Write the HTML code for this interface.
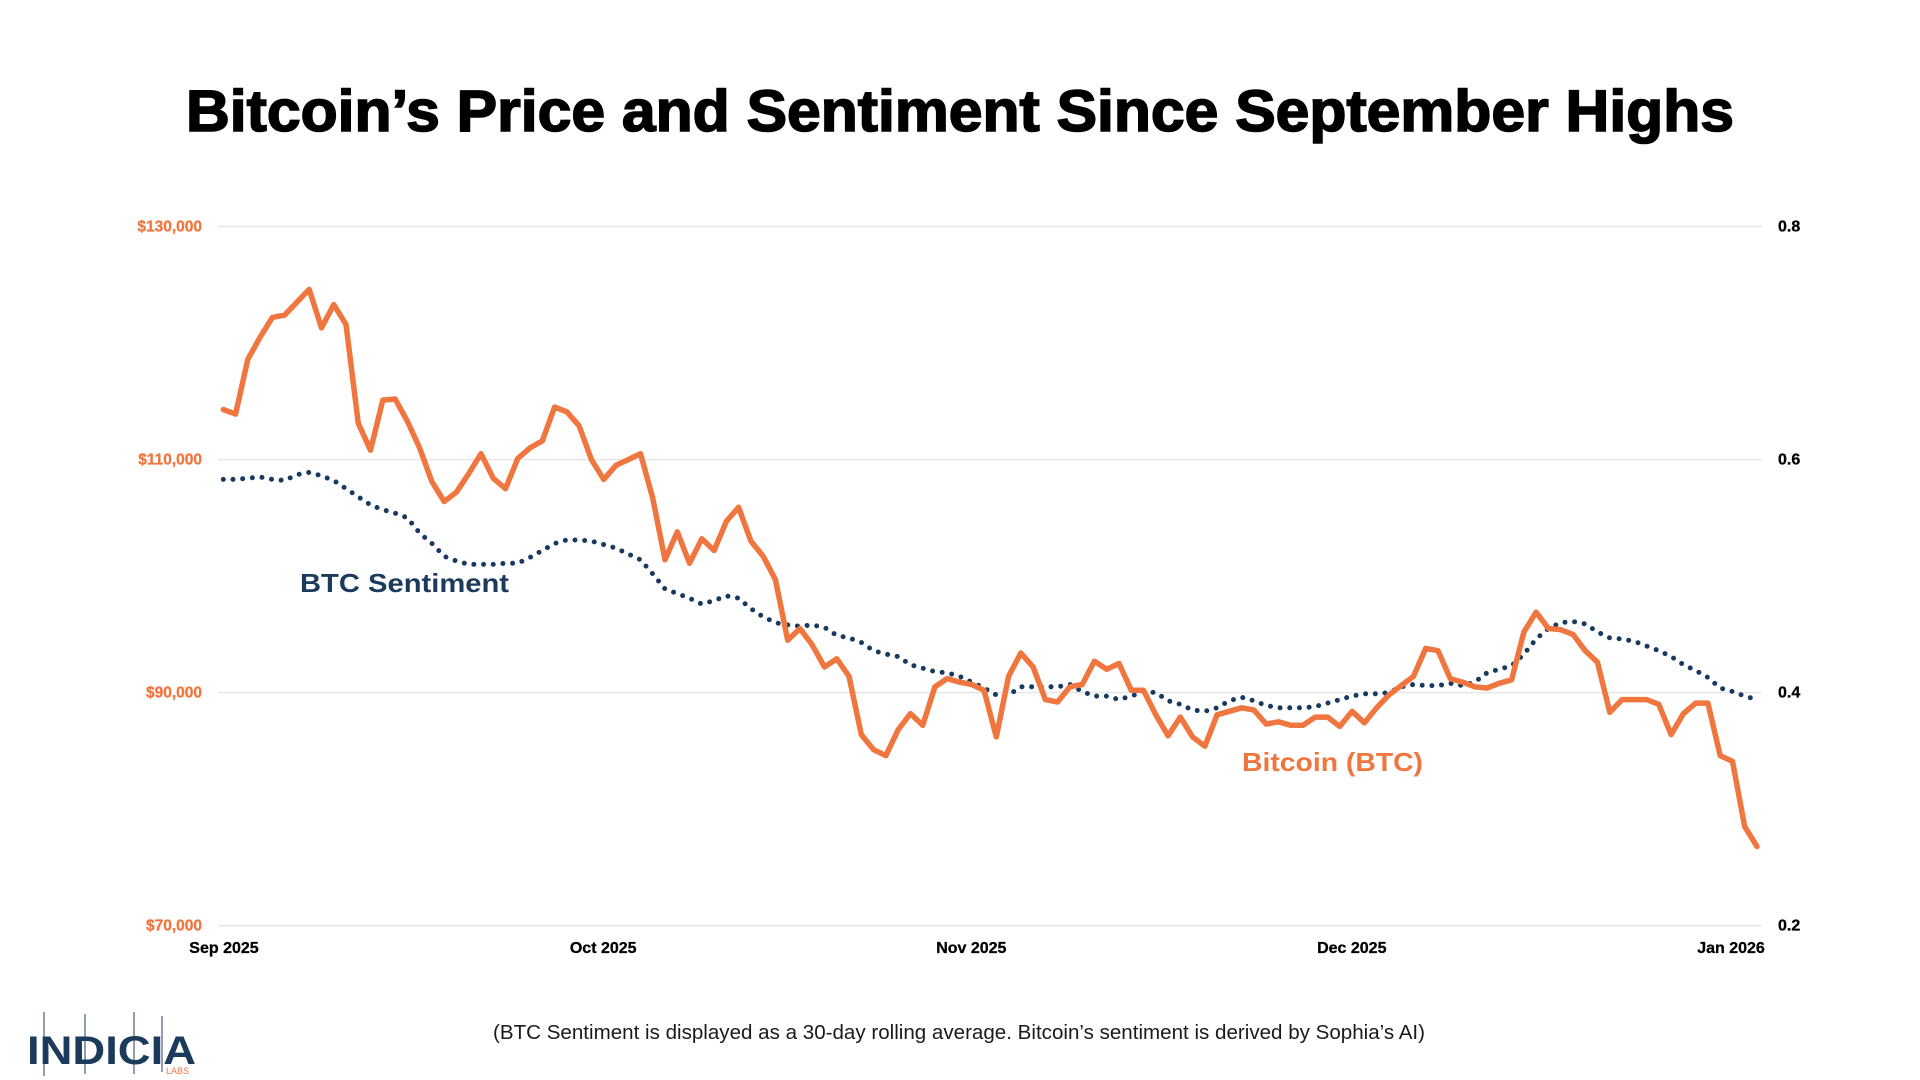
<!DOCTYPE html>
<html><head><meta charset="utf-8"><style>
html,body{margin:0;padding:0;background:#fff;width:1920px;height:1080px;overflow:hidden}
svg{display:block}
text{font-family:"Liberation Sans",sans-serif}
</style></head><body>
<svg id="chart" width="1920" height="1080" viewBox="0 0 1920 1080" xmlns="http://www.w3.org/2000/svg">
<text x="960" y="131" text-anchor="middle" font-size="58" font-weight="bold" fill="#000" stroke="#000" stroke-width="1.6" textLength="1548" lengthAdjust="spacingAndGlyphs">Bitcoin’s Price and Sentiment Since September Highs</text>
<g id="grid"></g>
<g id="yleft"></g>
<g id="yright"></g>
<g id="xaxis"></g>
<path id="sentLine" fill="none" stroke="#173a5e" stroke-width="5" stroke-linecap="round" stroke-dasharray="0 9.7"/>
<path id="priceLine" fill="none" stroke="#f07640" stroke-width="5.5" stroke-linejoin="round" stroke-linecap="round"/>
<text x="300" y="592" font-size="26" font-weight="bold" fill="#1b3a5c" textLength="209" lengthAdjust="spacingAndGlyphs">BTC Sentiment</text>
<text x="1242" y="771" font-size="26" font-weight="bold" fill="#f07640" textLength="181" lengthAdjust="spacingAndGlyphs">Bitcoin (BTC)</text>
<text x="959" y="1039" text-anchor="middle" font-size="20" fill="#1a1a1a" textLength="932" lengthAdjust="spacingAndGlyphs">(BTC Sentiment is displayed as a 30-day rolling average. Bitcoin’s sentiment is derived by Sophia’s AI)</text>
<g>
<line x1="44" y1="1012" x2="44" y2="1076" stroke="#6a7f95" stroke-width="1.5"/>
<line x1="85" y1="1014" x2="85" y2="1074" stroke="#6a7f95" stroke-width="1.5"/>
<line x1="134" y1="1012" x2="134" y2="1074" stroke="#6a7f95" stroke-width="1.5"/>
<line x1="162" y1="1016" x2="162" y2="1072" stroke="#6a7f95" stroke-width="1.5"/>
<text x="27" y="1064" font-size="40" font-weight="bold" fill="#1b3a5c" textLength="169" lengthAdjust="spacingAndGlyphs">INDICIA</text>
<text x="166" y="1074" font-size="9" fill="#f07640">LABS</text>
</g>
</svg>
<script>
const priceK=[114.3,113.9,118.6,120.5,122.2,122.4,123.5,124.6,121.3,123.3,121.6,113.1,110.8,115.1,115.2,113.3,111.0,108.1,106.4,107.2,108.8,110.5,108.4,107.5,110.1,111.0,111.6,114.5,114.1,112.9,110.0,108.3,109.5,110.0,110.5,106.7,101.4,103.8,101.1,103.2,102.2,104.7,105.9,103.0,101.7,99.7,94.5,95.5,94.1,92.2,92.9,91.4,86.4,85.1,84.6,86.8,88.2,87.2,90.5,91.2,90.9,90.7,90.2,86.2,91.4,93.4,92.2,89.4,89.2,90.5,90.7,92.7,92.0,92.5,90.2,90.2,88.1,86.3,87.9,86.2,85.4,88.1,88.4,88.7,88.5,87.3,87.5,87.2,87.2,87.9,87.9,87.1,88.4,87.4,88.7,89.8,90.6,91.4,93.8,93.6,91.2,90.9,90.5,90.4,90.8,91.1,95.2,96.9,95.5,95.4,95.0,93.6,92.6,88.3,89.4,89.4,89.4,89.0,86.4,88.2,89.1,89.1,84.6,84.1,78.5,76.8];
const sentiment=[.583,.583,.584,.585,.583,.582,.587,.589,.586,.582,.575,.568,.561,.557,.554,.550,.537,.528,.517,.513,.510,.510,.510,.511,.511,.516,.522,.528,.531,.531,.530,.527,.524,.519,.514,.502,.489,.485,.481,.476,.479,.483,.481,.472,.465,.460,.458,.457,.458,.456,.449,.447,.443,.436,.433,.431,.424,.421,.418,.417,.414,.409,.404,.398,.398,.405,.405,.405,.405,.407,.401,.397,.397,.394,.397,.401,.400,.393,.390,.385,.384,.387,.393,.396,.393,.389,.387,.387,.387,.388,.391,.394,.397,.399,.399,.400,.405,.407,.406,.406,.408,.406,.409,.417,.420,.423,.433,.446,.455,.460,.461,.459,.452,.447,.446,.444,.440,.436,.431,.424,.419,.413,.404,.401,.397,.394];
const leftTicks=[70000,90000,110000,130000];
const leftTickLabels=["$70,000","$90,000","$110,000","$130,000"];
const rightTicks=[0.2,0.4,0.6,0.8];
const rightTickLabels=["0.2","0.4","0.6","0.8"];
const monthLabels=["Sep 2025","Oct 2025","Nov 2025","Dec 2025","Jan 2026"];
const monthDay=[0,30.7,60.5,91.3,122];

const NS="http://www.w3.org/2000/svg";
const X0=223.3,X1=1757,Y0=925.7,Y1=226.5;
function xScale(i){return X0+(X1-X0)*i/(priceK.length-1);}
function yPrice(p){return Y0-(p-70000)/(130000-70000)*(Y0-Y1);}
function ySent(s){return Y0-(s-0.2)/(0.8-0.2)*(Y0-Y1);}
function xLabel(d){return 224+(1731-224)*d/122;}
function mk(tag,attrs,parent,txt){const e=document.createElementNS(NS,tag);for(const k in attrs)e.setAttribute(k,attrs[k]);if(txt!==undefined)e.textContent=txt;parent.appendChild(e);return e;}

const grid=document.getElementById('grid'),yl=document.getElementById('yleft'),yr=document.getElementById('yright'),xa=document.getElementById('xaxis');
leftTicks.forEach((v,i)=>{
  const y=yPrice(v);
  const g=mk('line',{x1:218,x2:1762,y1:y,y2:y,stroke:'#e6e6e6','stroke-width':1.5},grid);
  
  
  const t=mk('text',{x:202,y:y+5,'text-anchor':'end','font-size':15.5,'font-weight':'bold',fill:'#f07640',stroke:'#f07640','stroke-width':0.3},yl,leftTickLabels[i]);
  
  
});
rightTicks.forEach((v,i)=>{
  const y=ySent(v);
  const t=mk('text',{x:1778,y:y+5,'font-size':16,'font-weight':'bold',fill:'#000',stroke:'#000','stroke-width':0.3},yr,rightTickLabels[i]);
  
  
});
monthLabels.forEach((m,i)=>{
  const t=mk('text',{x:xLabel(monthDay[i]),y:953,'text-anchor':'middle','font-size':16,'font-weight':'bold',fill:'#000',stroke:'#000','stroke-width':0.3},xa,m);
  
  
});
document.getElementById('priceLine').setAttribute('d',priceK.map((p,i)=>(i?'L':'M')+xScale(i).toFixed(1)+' '+yPrice(p*1000).toFixed(1)).join(' '));
document.getElementById('sentLine').setAttribute('d',sentiment.map((s,i)=>(i?'L':'M')+xScale(i).toFixed(1)+' '+ySent(s).toFixed(1)).join(' '));
</script>
</body></html>
